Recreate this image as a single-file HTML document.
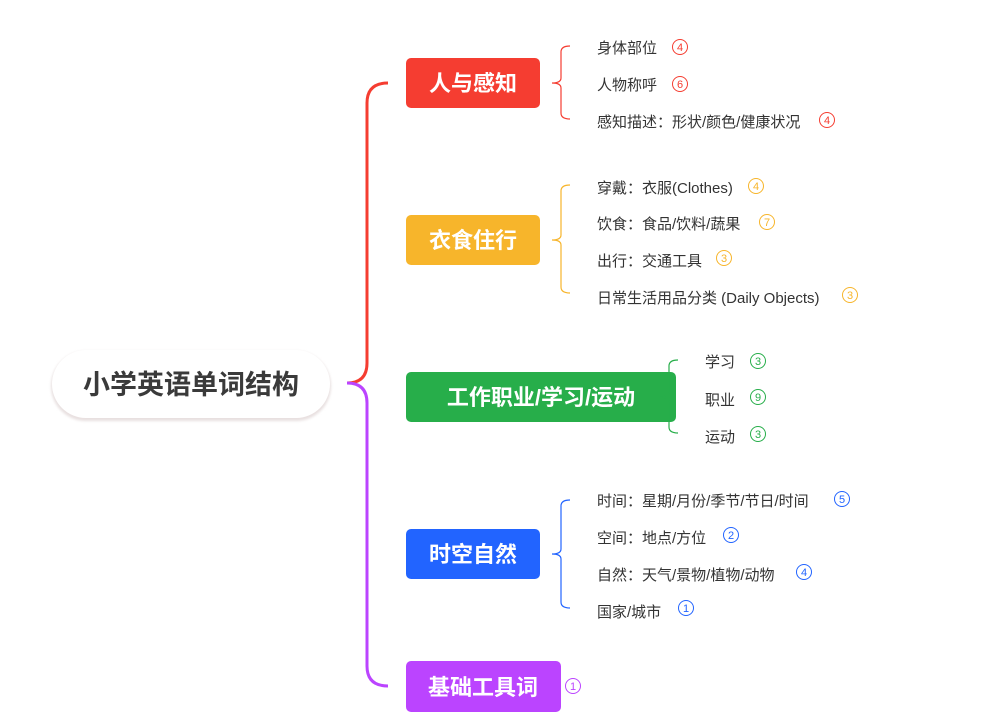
<!DOCTYPE html>
<html><head><meta charset="utf-8"><style>
html,body{margin:0;padding:0;background:#fff;}
svg{display:block;}
.l{font-family:"Liberation Sans","Noto Sans CJK SC",sans-serif;font-size:15px;fill:#333;}
.n{font-family:"Liberation Sans",sans-serif;font-size:11px;text-anchor:middle;}
.b{font-family:"Liberation Sans","Noto Sans CJK SC",sans-serif;font-size:22px;font-weight:bold;fill:#fff;text-anchor:middle;}
</style></head><body>
<svg width="988" height="728" viewBox="0 0 988 728" xmlns="http://www.w3.org/2000/svg">
<defs><filter id="sh" x="-10%" y="-20%" width="120%" height="140%"><feGaussianBlur stdDeviation="1.2"/></filter></defs>
<rect x="51" y="351" width="280" height="70" rx="35" fill="#e8e0e0" filter="url(#sh)"/>
<rect x="52" y="350" width="278" height="68" rx="34" fill="#fff"/>
<text x="191" y="394" font-family="Liberation Sans,Noto Sans CJK SC,sans-serif" font-size="27" font-weight="bold" fill="#3a3a3a" text-anchor="middle">小学英语单词结构</text>
<path d="M347,383 Q367,383 367,363 L367,103 Q367,83 388,83" fill="none" stroke="#f53d31" stroke-width="3"/>
<path d="M347,383 Q367,383 367,403 L367,666 Q367,686 388,686" fill="none" stroke="#bb44ff" stroke-width="3"/>
<rect x="406" y="58" width="134" height="50" rx="5" fill="#f53d31"/>
<text class="b" x="473" y="91">人与感知</text>
<rect x="406" y="215" width="134" height="50" rx="5" fill="#f7b52b"/>
<text class="b" x="473" y="248">衣食住行</text>
<rect x="406" y="372" width="270" height="50" rx="5" fill="#27ae4a"/>
<text class="b" x="541" y="405">工作职业/学习/运动</text>
<rect x="406" y="529" width="134" height="50" rx="5" fill="#2264ff"/>
<text class="b" x="473" y="562">时空自然</text>
<rect x="406" y="661" width="155" height="51" rx="5" fill="#bb44ff"/>
<text class="b" x="483" y="695">基础工具词</text>
<g fill="none" stroke-width="1.2">
<path stroke="#f53d31" d="M570,46 Q561,46 561,52 L561,78 Q561,83 552,83 Q561,83 561,88 L561,113 Q561,119 570,119"/>
<path stroke="#f7b52b" d="M570,185 Q561,185 561,191 L561,235 Q561,240 552,240 Q561,240 561,245 L561,287 Q561,293 570,293"/>
<path stroke="#27ae4a" d="M678,360 Q669,360 669,366 L669,392 Q669,397 660,397 Q669,397 669,402 L669,427 Q669,433 678,433"/>
<path stroke="#2264ff" d="M570,500 Q561,500 561,506 L561,549 Q561,554 552,554 Q561,554 561,559 L561,602 Q561,608 570,608"/>
</g>
<g class="l">
<text x="597" y="53">身体部位</text>
<text x="597" y="90">人物称呼</text>
<text x="597" y="127">感知描述：形状/颜色/健康状况</text>
<text x="597" y="193">穿戴：衣服(Clothes)</text>
<text x="597" y="229">饮食：食品/饮料/蔬果</text>
<text x="597" y="266">出行：交通工具</text>
<text x="597" y="303">日常生活用品分类 (Daily  Objects)</text>
<text x="705" y="367">学习</text>
<text x="705" y="405">职业</text>
<text x="705" y="442">运动</text>
<text x="597" y="506">时间：星期/月份/季节/节日/时间</text>
<text x="597" y="543">空间：地点/方位</text>
<text x="597" y="580">自然：天气/景物/植物/动物</text>
<text x="597" y="617">国家/城市</text>
</g>
<g fill="none" stroke-width="1">
<circle cx="680" cy="47" r="7.5" stroke="#f53d31"/><circle cx="680" cy="84" r="7.5" stroke="#f53d31"/><circle cx="827" cy="120" r="7.5" stroke="#f53d31"/>
<circle cx="756" cy="186" r="7.5" stroke="#f7b52b"/><circle cx="767" cy="222" r="7.5" stroke="#f7b52b"/><circle cx="724" cy="258" r="7.5" stroke="#f7b52b"/><circle cx="850" cy="295" r="7.5" stroke="#f7b52b"/>
<circle cx="758" cy="361" r="7.5" stroke="#27ae4a"/><circle cx="758" cy="397" r="7.5" stroke="#27ae4a"/><circle cx="758" cy="434" r="7.5" stroke="#27ae4a"/>
<circle cx="842" cy="499" r="7.5" stroke="#2264ff"/><circle cx="731" cy="535" r="7.5" stroke="#2264ff"/><circle cx="804" cy="572" r="7.5" stroke="#2264ff"/><circle cx="686" cy="608" r="7.5" stroke="#2264ff"/>
<circle cx="573" cy="686" r="7.5" stroke="#bb44ff"/>
</g>
<g class="n">
<text x="680" y="51" fill="#f53d31">4</text><text x="680" y="88" fill="#f53d31">6</text><text x="827" y="124" fill="#f53d31">4</text>
<text x="756" y="190" fill="#f7b52b">4</text><text x="767" y="226" fill="#f7b52b">7</text><text x="724" y="262" fill="#f7b52b">3</text><text x="850" y="299" fill="#f7b52b">3</text>
<text x="758" y="365" fill="#27ae4a">3</text><text x="758" y="401" fill="#27ae4a">9</text><text x="758" y="438" fill="#27ae4a">3</text>
<text x="842" y="503" fill="#2264ff">5</text><text x="731" y="539" fill="#2264ff">2</text><text x="804" y="576" fill="#2264ff">4</text><text x="686" y="612" fill="#2264ff">1</text>
<text x="573" y="690" fill="#bb44ff">1</text>
</g>
</svg>
</body></html>
